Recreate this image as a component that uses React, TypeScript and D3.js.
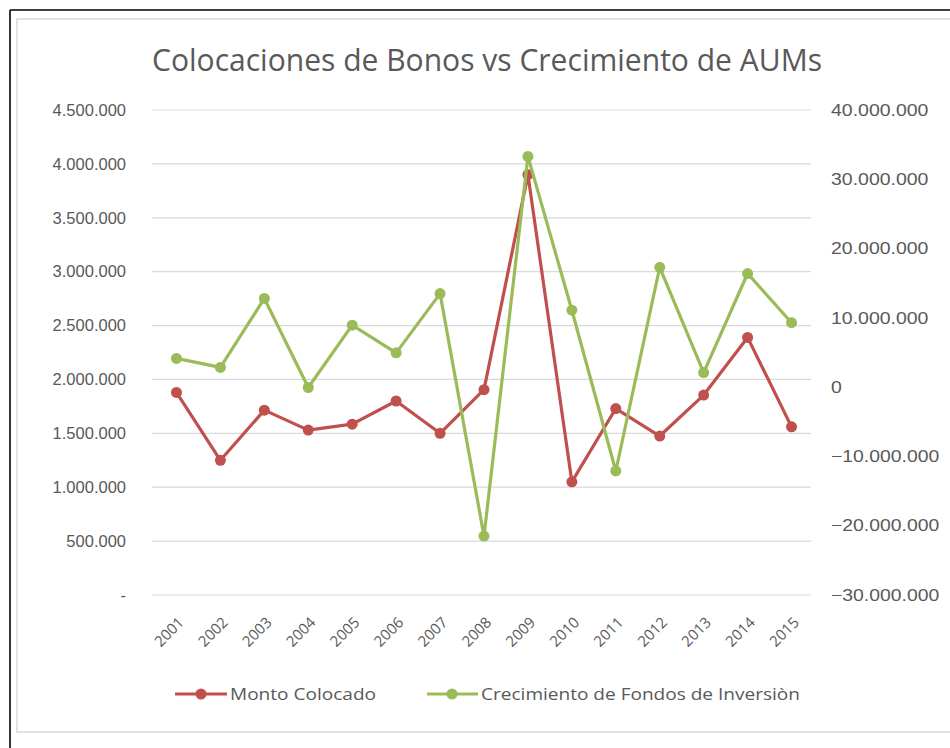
import React from "react";
import * as d3 from "d3";

const years = ["2001","2002","2003","2004","2005","2006","2007","2008","2009","2010","2011","2012","2013","2014","2015"];
const montoColocado = [1880000,1250000,1715000,1530000,1585000,1800000,1500000,1905000,3900000,1050000,1730000,1475000,1855000,2390000,1560000];
const crecimientoFondos = [4150000,2850000,12800000,-50000,8950000,4950000,13500000,-21500000,33300000,11100000,-12100000,17300000,2100000,16400000,9300000];
const leftTicks = [0,500000,1000000,1500000,2000000,2500000,3000000,3500000,4000000,4500000];
const rightTicks = [-30000000,-20000000,-10000000,0,10000000,20000000,30000000,40000000];
const title = "Colocaciones de Bonos vs Crecimiento de AUMs";
const seriesNames = ["Monto Colocado", "Crecimiento de Fondos de Inversiòn"];

const RED = "#C0504D";
const GREEN = "#9BBB59";
const TEXT = "#595959";
const GRID = "#d9d9d9";

const loc = d3.formatLocale({ decimal: ",", thousands: ".", grouping: [3], currency: ["$", ""] });
const fmt = loc.format(",d");

function textWidthEm(s: string) {
  let w = 0;
  for (const c of s) w += c === "." ? 0.278 : c === "-" ? 0.333 : 0.556;
  return w;
}

export default function App() {
  const W = 950, H = 748;
  const top = 110, bottom = 595;
  const x = d3.scaleBand().domain(years).range([154.5, 813.5]);
  const cx = (y: string) => (x(y) as number) + x.bandwidth() / 2;
  const yL = d3.scaleLinear().domain([0, 4500000]).range([bottom, top]);
  const yR = d3.scaleLinear().domain([-30000000, 40000000]).range([bottom, top]);

  const lineL = d3.line<number>().x((_, i) => cx(years[i])).y((d) => yL(d));
  const lineR = d3.line<number>().x((_, i) => cx(years[i])).y((d) => yR(d));

  const font = "'Liberation Sans', Arial, sans-serif";
  const font2 = "'Open Sans', 'Noto Sans', sans-serif";

  return (
    <svg width={W} height={H} style={{ position: "absolute", left: 0, top: 0, background: "#fff" }}>
      <rect x={0} y={0} width={W} height={H} fill="#fff" />
      <line x1={10} y1={10} x2={W} y2={10} stroke="#000" strokeWidth={1.6} />
      <line x1={10} y1={10} x2={10} y2={H} stroke="#000" strokeWidth={1.6} />
      <rect x={17} y={19} width={W} height={713} fill="#fff" stroke={GRID} strokeWidth={1.5} />

      <text x={487} y={71} textAnchor="middle" fontFamily={font2} fontSize={31} fill={TEXT}
        textLength={670} lengthAdjust="spacingAndGlyphs">{title}</text>

      {leftTicks.map((t) => (
        <line key={"g" + t} x1={152} x2={811} y1={yL(t)} y2={yL(t)} stroke={GRID} strokeWidth={1.2} />
      ))}
      {leftTicks.map((t) => {
        const s = t === 0 ? "-" : fmt(t);
        return (
          <text key={"l" + t} x={126} y={yL(t)} dy="0.35em" textAnchor="end" fontFamily={font} fontSize={16.5} fill={TEXT}
            textLength={textWidthEm(s) * 16.5} lengthAdjust="spacingAndGlyphs">
            {s}
          </text>
        );
      })}
      {rightTicks.map((t) => {
        const s = fmt(t);
        return (
          <text key={"r" + t} x={831} y={yR(t)} dy="0.35em" textAnchor="start" fontFamily={font} fontSize={16.5} fill={TEXT}
            textLength={textWidthEm(s) * 16.5 * 1.18} lengthAdjust="spacingAndGlyphs">
            {s}
          </text>
        );
      })}
      {years.map((yv) => (
        <text key={"x" + yv} transform={`translate(${cx(yv) + 1},${616}) rotate(-45)`} textAnchor="end" dy="0.7em"
          fontFamily={font2} fontSize={15} fill={TEXT}>{yv}</text>
      ))}

      <path d={lineL(montoColocado) || ""} fill="none" stroke={RED} strokeWidth={3.2} strokeLinejoin="round" />
      {montoColocado.map((v, i) => (
        <circle key={"m" + i} cx={cx(years[i])} cy={yL(v)} r={5.5} fill={RED} />
      ))}
      <path d={lineR(crecimientoFondos) || ""} fill="none" stroke={GREEN} strokeWidth={3.2} strokeLinejoin="round" />
      {crecimientoFondos.map((v, i) => (
        <circle key={"c" + i} cx={cx(years[i])} cy={yR(v)} r={5.5} fill={GREEN} />
      ))}

      <g>
        <line x1={175} x2={227} y1={694} y2={694} stroke={RED} strokeWidth={3.2} />
        <circle cx={201} cy={694} r={5.5} fill={RED} />
        <text x={230} y={694} dy="0.35em" fontFamily={font2} fontSize={16} fill={TEXT} textLength={146} lengthAdjust="spacingAndGlyphs">{seriesNames[0]}</text>
        <line x1={427} x2={478} y1={694} y2={694} stroke={GREEN} strokeWidth={3.2} />
        <circle cx={452} cy={694} r={5.5} fill={GREEN} />
        <text x={481} y={694} dy="0.35em" fontFamily={font2} fontSize={16} fill={TEXT} textLength={319} lengthAdjust="spacingAndGlyphs">{seriesNames[1]}</text>
      </g>
    </svg>
  );
}
